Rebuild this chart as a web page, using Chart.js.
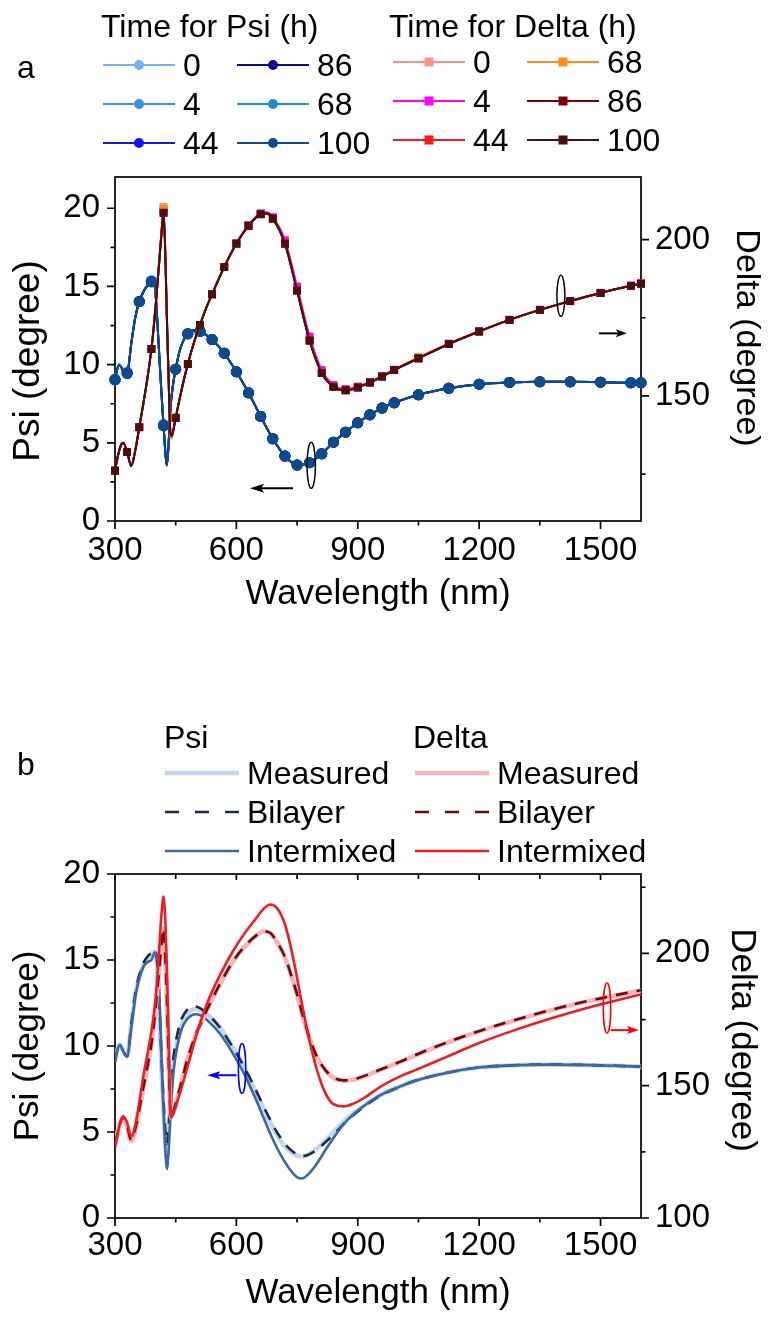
<!DOCTYPE html>
<html>
<head>
<meta charset="utf-8">
<title>Psi and Delta spectra</title>
<script src="https://cdn.jsdelivr.net/npm/chart.js@4.4.1/dist/chart.umd.min.js"></script>
<style>
  html, body { margin:0; padding:0; background:#ffffff; }
  #page { position:relative; width:769px; height:1325px; overflow:hidden; background:#fff; }
  canvas { position:absolute; left:0; }
  #ca { top:0; }
  #cb { top:640px; }
  #ov { position:absolute; left:0; top:0; pointer-events:none; }
  #ov text { font-family:'Liberation Sans', Arial, Helvetica, sans-serif; fill:#000; }
</style>
</head>
<body>
<div id="page">
  <canvas id="ca" width="769" height="640"></canvas>
  <canvas id="cb" width="769" height="685"></canvas>
  <svg id="ov" width="769" height="1325" viewBox="0 0 769 1325" xmlns="http://www.w3.org/2000/svg"></svg>
</div>
<script>
// ---------------- DATA ----------------
// Axis ticks
const X_MAJOR = [300, 600, 900, 1200, 1500];
const X_MINOR = [450, 750, 1050, 1350];
const PSI_MAJOR = [0, 5, 10, 15, 20];
const PSI_MINOR = [2.5, 7.5, 12.5, 17.5];
const DELTA_A_MAJOR = [150, 200];
const DELTA_A_MINOR = [125, 175];
const DELTA_B_MAJOR = [100, 150, 200];
const DELTA_B_MINOR = [125, 175, 225];

// Panel a: wavelength grid (nm) and marker wavelengths
const W_A = [300,305,310,315,320,330,340,350,360,370,380,390,395,400,405,410,415,420,425,428,432,437,440,445,450,460,470,480,495,510,525,540,555,570,600,630,660,675,690,720,750,781,811,840,870,900,930,960,990,1050,1125,1200,1275,1350,1425,1500,1575,1600];
const MARK_A = [300,330,360,390,420,450,480,510,540,570,600,630,660,690,720,750,781,811,840,870,900,930,960,990,1050,1125,1200,1275,1350,1425,1500,1575,1600];

// Panel a: Psi (degree) vs time
const PSI_A_0H   = [9.1,9.7,10.05,9.9,9.65,9.55,11.35,13.05,14.05,14.7,15.1,15.4,15.5,14.7,12.7,10.4,8.2,6.2,4.25,3.6,4.75,7.2,8.0,9.0,9.72,10.9,11.6,11.98,12.2,12.14,11.9,11.6,11.2,10.74,9.55,8.2,6.7,5.96,5.27,4.16,3.59,3.74,4.31,5.05,5.69,6.29,6.8,7.23,7.57,8.08,8.5,8.76,8.87,8.91,8.91,8.89,8.85,8.85];
const PSI_A_4H   = [9.05,9.66,9.98,9.86,9.61,9.47,11.3,13.0,14.03,14.66,15.06,15.32,15.42,14.62,12.62,10.32,8.12,6.12,4.21,3.56,4.71,7.2,8.0,9.0,9.71,10.9,11.6,11.97,12.2,12.13,11.9,11.6,11.2,10.73,9.54,8.2,6.69,5.95,5.26,4.15,3.58,3.73,4.3,5.04,5.68,6.28,6.79,7.22,7.56,8.07,8.49,8.75,8.86,8.9,8.9,8.88,8.84,8.84];
const PSI_A_44H  = [9.04,9.65,9.96,9.85,9.6,9.46,11.3,13.0,14.03,14.65,15.05,15.31,15.41,14.61,12.61,10.31,8.11,6.11,4.2,3.55,4.7,7.2,8.0,9.0,9.71,10.9,11.6,11.97,12.2,12.13,11.9,11.6,11.2,10.73,9.54,8.2,6.69,5.95,5.26,4.15,3.58,3.73,4.3,5.04,5.68,6.28,6.79,7.22,7.56,8.07,8.49,8.75,8.86,8.9,8.9,8.88,8.84,8.84];
const PSI_A_86H  = [9.03,9.65,9.95,9.85,9.6,9.45,11.3,13.0,14.03,14.65,15.05,15.3,15.4,14.6,12.6,10.3,8.1,6.1,4.2,3.55,4.7,7.2,8.0,9.0,9.71,10.9,11.6,11.97,12.2,12.13,11.9,11.6,11.2,10.73,9.54,8.2,6.69,5.95,5.26,4.15,3.58,3.73,4.3,5.04,5.68,6.28,6.79,7.22,7.56,8.07,8.49,8.75,8.86,8.9,8.9,8.88,8.84,8.84];
const PSI_A_68H  = [9.03,9.65,9.95,9.85,9.6,9.45,11.3,13.0,14.03,14.65,15.05,15.3,15.4,14.6,12.6,10.3,8.1,6.1,4.2,3.55,4.7,7.2,8.0,9.0,9.71,10.9,11.6,11.97,12.2,12.13,11.9,11.6,11.2,10.73,9.54,8.2,6.69,5.95,5.26,4.15,3.58,3.73,4.3,5.04,5.68,6.28,6.79,7.22,7.56,8.07,8.49,8.75,8.86,8.9,8.9,8.88,8.84,8.84];
const PSI_A_100H = [9.03,9.65,9.95,9.85,9.6,9.45,11.3,13.0,14.03,14.65,15.05,15.3,15.4,14.6,12.6,10.3,8.1,6.1,4.2,3.55,4.7,7.2,8.0,9.0,9.71,10.9,11.6,11.97,12.2,12.13,11.9,11.6,11.2,10.73,9.54,8.2,6.69,5.95,5.26,4.15,3.58,3.73,4.3,5.04,5.68,6.28,6.79,7.22,7.56,8.07,8.49,8.75,8.86,8.9,8.9,8.88,8.84,8.84];

// Panel a: Delta (degree) vs time
const DELTA_A_0H   = [126.1,129.5,132.3,134.3,135.0,132.1,127.6,132.5,140.0,147.5,155.5,165.0,171.5,178.5,186.5,194.5,203.0,210.5,193,176,158,138,137.2,139.6,143.0,149.2,155,160.2,167,172.7,178,182.5,187,191.2,198.7,204.4,208.1,208.3,206.7,198.7,183.7,167.7,157.3,152.9,151.8,152.7,154.3,156.2,158.3,162.0,166.6,170.6,174.3,177.5,180.3,182.9,185.2,185.9];
const DELTA_A_4H   = [126.1,129.5,132.3,134.3,135.0,132.1,127.6,132.5,140.0,147.5,155.5,165.0,171.3,178.3,186.3,194.3,202.5,209.8,192.5,176,158,138,137.2,139.6,143.0,149.2,155,160.2,167,172.7,178,182.5,187,191.2,198.8,204.6,208.4,208.7,207.2,199.8,185.0,169.0,158.3,153.5,152.2,153.0,154.5,156.3,158.4,162.1,166.7,170.7,174.4,177.6,180.4,183.0,185.3,186.0];
const DELTA_A_44H  = [126.1,129.5,132.3,134.3,135.0,132.1,127.6,132.5,140.0,147.5,155.5,165.0,171,178,186,194,202.2,209.0,192.2,176,158,138,137.2,139.6,143.0,149.2,155,160.2,167,172.7,178,182.5,187,191.2,198.7,204.4,208.1,208.3,206.7,198.7,183.7,167.7,157.3,152.9,151.8,152.7,154.3,156.2,158.3,162.0,166.6,170.6,174.3,177.5,180.3,182.9,185.2,185.9];
const DELTA_A_68H  = [126.1,129.5,132.3,134.3,135.0,132.1,127.6,132.5,140.0,147.5,155.5,165.0,171.2,178.2,186.2,194.2,202.6,209.8,191.5,175,157,137.2,136.3,139.2,143.0,149.2,155,160.2,167,172.7,178,182.5,187,191.2,198.7,204.4,208.1,208.3,206.7,198.7,183.7,167.7,157.3,152.9,151.8,152.7,154.3,156.2,158.3,162.4,166.7,170.6,174.3,177.5,180.3,182.9,185.2,185.9];
const DELTA_A_86H  = [126.1,129.5,132.3,134.3,135.0,132.1,127.6,132.5,140.0,147.5,155.5,165.0,171,178,186,194,202,208.6,192,176,158,138,137.2,139.6,143.0,149.2,155,160.2,167,172.7,178,182.5,187,191.2,198.7,204.4,208.1,208.3,206.7,198.7,183.7,167.7,157.3,152.9,151.8,152.7,154.3,156.2,158.3,162.0,166.6,170.6,174.3,177.5,180.3,182.9,185.2,185.9];
const DELTA_A_100H = [126.1,129.5,132.3,134.3,135.0,132.1,127.6,132.5,140.0,147.5,155.5,165.0,171,178,186,194,202,208.5,192,176,158,138,137.2,139.6,143.0,149.2,155,160.2,167,172.7,178,182.5,187,191.2,198.7,204.4,208.1,208.3,206.7,198.7,183.7,167.7,157.3,152.9,151.8,152.7,154.3,156.2,158.3,162.0,166.6,170.6,174.3,177.5,180.3,182.9,185.2,185.9];

// Panel b: wavelength grid (nm)
const W_B = [300,305,312,320,330,340,352,370,382,390,399,405,410,415,420,425,428,432,438,445,455,465,478,490,500,510,530,560,593,620,650,667,684,700,720,740,754,762,780,800,820,840,865,890,920,956,1005,1038,1121,1203,1286,1369,1451,1534,1600];
const PSI_B_MEASURED   = [9.1,9.7,10.1,9.75,9.4,11.2,13.25,14.7,15.15,15.35,15.5,14.3,11.6,8.6,6.2,4.3,3.6,4.7,7.3,9.1,10.4,11.25,11.85,12.1,12.15,12.1,11.8,11.05,9.85,8.7,7.2,6.35,5.55,4.85,4.15,3.75,3.6,3.58,3.72,4.05,4.5,5.0,5.6,6.1,6.6,7.15,7.65,7.95,8.45,8.76,8.88,8.92,8.9,8.85,8.8];
const PSI_B_BILAYER    = [9.1,9.7,10.05,9.7,9.4,11.2,13.3,14.8,15.25,15.4,15.5,14.6,12.2,9.3,6.8,4.9,4.3,5.1,7.5,9.4,10.8,11.6,12.1,12.3,12.3,12.2,11.85,11.05,9.85,8.75,7.35,6.5,5.7,5.0,4.3,3.85,3.65,3.6,3.7,4.0,4.4,4.85,5.45,6.0,6.55,7.12,7.64,7.95,8.45,8.76,8.88,8.92,8.9,8.85,8.8];
const PSI_B_INTERMIXED = [9.1,9.7,10.05,9.7,9.4,11.0,13.1,14.6,14.9,15.0,15.45,15.1,12.8,9.3,6.2,3.7,2.85,3.7,6.4,8.6,10.1,11.0,11.55,11.8,11.85,11.8,11.45,10.7,9.5,8.35,6.8,5.85,4.9,4.1,3.25,2.6,2.32,2.3,2.6,3.2,3.95,4.65,5.45,6.05,6.6,7.14,7.65,7.95,8.45,8.76,8.88,8.92,8.9,8.85,8.8];
const DELTA_B_MEASURED   = [127.8,131.5,135.8,138.0,134.5,129.0,134.5,149.0,158.5,165.5,177.0,186.5,195.0,203.0,209.3,196.0,184.0,163.0,138.0,140.3,146.0,151.5,159.5,165.0,169.5,172.8,179.5,188.5,197.2,202.5,206.8,208.3,207.6,204.3,198.5,189.5,182.2,177.5,168.3,160.5,155.8,153.0,151.9,152.3,153.8,156.0,159.0,161.2,166.3,170.7,174.6,178.2,181.3,184.0,186.0];
const DELTA_B_BILAYER    = [127.5,131.2,135.5,138.2,134.8,129.5,135.0,149.3,158.7,165.7,177.2,186.8,195.5,203.5,209.6,196.5,184.5,163.5,138.3,140.5,146.2,151.7,159.6,165.1,169.6,172.9,179.6,188.6,197.3,202.6,206.9,208.4,207.7,204.4,198.6,189.6,182.3,177.6,168.4,160.6,155.9,153.1,152.0,152.4,153.9,156.1,159.1,161.3,166.4,170.8,174.7,178.3,181.4,184.1,186.1];
const DELTA_B_INTERMIXED = [126.5,130.5,135.5,138.4,136.0,130.8,136.5,153.5,163.5,170.5,181.0,192.0,204.0,215.0,221.5,210.0,196.0,172.0,138.0,139.8,144.5,149.5,156.5,163.0,168.5,173.5,182.0,192.0,201.2,207.5,213.5,216.8,218.5,217.2,211.0,198.5,187.5,181.0,167.5,155.5,147.2,143.0,142.2,143.3,145.8,149.6,153.5,155.6,161.0,166.3,170.9,175.0,178.7,182.0,184.5];

// ---------------- STYLE / LAYOUT ----------------
const FONT = "'Liberation Sans', Arial, Helvetica, sans-serif";
Chart.defaults.font.family = FONT;
Chart.defaults.color = '#000';
const TICK_FONT = { size: 33, family: FONT };
const TITLE_FONT = { size: 35, family: FONT };

const SERIES_A_PSI = [
  { label: '0',   values: PSI_A_0H,   color: '#72B3F4', order: 11 },
  { label: '4',   values: PSI_A_4H,   color: '#3D8EE8', order: 10 },
  { label: '44',  values: PSI_A_44H,  color: '#1616F2', order: 9 },
  { label: '86',  values: PSI_A_86H,  color: '#0A0A98', order: 7 },
  { label: '68',  values: PSI_A_68H,  color: '#1C8ECC', order: 8 },
  { label: '100', values: PSI_A_100H, color: '#0E4B8B', order: 6 }
];
const SERIES_A_DELTA = [
  { label: '0',   values: DELTA_A_0H,   color: '#FF8E8E', order: 5 },
  { label: '4',   values: DELTA_A_4H,   color: '#FF00FF', order: 4 },
  { label: '44',  values: DELTA_A_44H,  color: '#FF1818', order: 3 },
  { label: '68',  values: DELTA_A_68H,  color: '#FF8A14', order: 2 },
  { label: '86',  values: DELTA_A_86H,  color: '#7E0000', order: 1 },
  { label: '100', values: DELTA_A_100H, color: '#4C0E0E', order: 0 }
];
const SERIES_B_PSI = [
  { label: 'Measured',   values: PSI_B_MEASURED,   color: '#C4D5EE', width: 4.5, dash: [], order: 5 },
  { label: 'Bilayer',    values: PSI_B_BILAYER,    color: '#1B2B42', width: 2.6, dash: [12, 9], order: 4 },
  { label: 'Intermixed', values: PSI_B_INTERMIXED, color: '#3A68A0', width: 2.6, dash: [], order: 3 }
];
const SERIES_B_DELTA = [
  { label: 'Measured',   values: DELTA_B_MEASURED,   color: '#F8B3B5', width: 4.5, dash: [], order: 2 },
  { label: 'Bilayer',    values: DELTA_B_BILAYER,    color: '#6A0A0A', width: 2.6, dash: [12, 9], order: 1 },
  { label: 'Intermixed', values: DELTA_B_INTERMIXED, color: '#EE1D23', width: 2.6, dash: [], order: 0 }
];

const ANNOT_A = [
  { type: 'ellipse', scale: 'yL', x: 785, y: 3.56, rx: 4.2, ry: 23, color: '#000', width: 1.5 },
  { type: 'arrow', scale: 'yL', x1: 740, x2: 634, y: 2.1, head: 14, hw: 4.5, color: '#000', width: 2 },
  { type: 'ellipse', scale: 'yR', x: 1402, y: 182, rx: 4, ry: 20.5, color: '#000', width: 1.5 },
  { type: 'arrow', scale: 'yR', x1: 1496, x2: 1565, y: 170, head: 11, hw: 4, color: '#000', width: 2 }
];
const ANNOT_B = [
  { type: 'ellipse', scale: 'yL', x: 614, y: 8.69, rx: 3.7, ry: 25, color: '#0000FF', width: 1.5 },
  { type: 'arrow', scale: 'yL', x1: 600, x2: 528, y: 8.3, head: 13, hw: 4, color: '#0000FF', width: 2 },
  { type: 'ellipse', scale: 'yR', x: 1516, y: 179.4, rx: 3.7, ry: 25, color: '#FF0000', width: 1.5 },
  { type: 'arrow', scale: 'yR', x1: 1525, x2: 1595, y: 171, head: 12, hw: 4, color: '#FF0000', width: 2 }
];

// ---------------- PLUGINS ----------------
const frameTicks = {
  id: 'frameTicks',
  beforeDatasetsDraw(chart, args, opts) {
    const { ctx, chartArea: a, scales } = chart;
    ctx.save();
    ctx.strokeStyle = '#000';
    ctx.lineWidth = 1.7;
    ctx.lineCap = 'butt';
    ctx.strokeRect(a.left, a.top, a.right - a.left, a.bottom - a.top);
    ctx.beginPath();
    for (const t of opts.ticks) {
      const s = scales[t.scale];
      for (const v of t.values) {
        const p = s.getPixelForValue(v);
        if (t.side === 'bottom') { ctx.moveTo(p, a.bottom); ctx.lineTo(p, a.bottom + t.len); }
        else if (t.side === 'top') { ctx.moveTo(p, a.top); ctx.lineTo(p, a.top + t.len); }
        else if (t.side === 'left') { ctx.moveTo(a.left, p); ctx.lineTo(a.left - t.len, p); }
        else if (t.side === 'right') { ctx.moveTo(a.right, p); ctx.lineTo(a.right + t.len, p); }
      }
    }
    ctx.stroke();
    ctx.restore();
  }
};
const annot = {
  id: 'annot',
  afterDatasetsDraw(chart, args, opts) {
    const { ctx, scales } = chart;
    ctx.save();
    for (const it of opts.items) {
      const xs = scales.x, ys = scales[it.scale];
      ctx.strokeStyle = it.color; ctx.fillStyle = it.color; ctx.lineWidth = it.width;
      if (it.type === 'ellipse') {
        ctx.beginPath();
        ctx.ellipse(xs.getPixelForValue(it.x), ys.getPixelForValue(it.y), it.rx, it.ry, 0, 0, Math.PI * 2);
        ctx.stroke();
      } else {
        const x1 = xs.getPixelForValue(it.x1), x2 = xs.getPixelForValue(it.x2), y = ys.getPixelForValue(it.y);
        const d = Math.sign(x2 - x1);
        ctx.beginPath(); ctx.moveTo(x1, y); ctx.lineTo(x2 - d * it.head * 0.7, y); ctx.stroke();
        ctx.beginPath();
        ctx.moveTo(x2, y);
        ctx.lineTo(x2 - d * it.head, y - it.hw);
        ctx.lineTo(x2 - d * it.head * 0.78, y);
        ctx.lineTo(x2 - d * it.head, y + it.hw);
        ctx.closePath(); ctx.fill();
      }
    }
    ctx.restore();
  }
};

// ---------------- BUILDERS ----------------
function xScale(tickPad, titlePadBottom, height) {
  return {
    type: 'linear', position: 'bottom', min: 300, max: 1600,
    afterBuildTicks: s => { s.ticks = X_MAJOR.map(v => ({ value: v })); },
    afterFit: s => { s.height = height; },
    ticks: { font: TICK_FONT, color: '#000', padding: tickPad, maxRotation: 0, minRotation: 0, autoSkip: false, callback: v => String(v) },
    grid: { display: false, drawTicks: false },
    border: { display: false },
    title: { display: true, text: 'Wavelength (nm)', font: TITLE_FONT, color: '#000', padding: { top: 0, bottom: titlePadBottom } }
  };
}
function yScale(pos, min, max, major, width, tickPad) {
  return {
    type: 'linear', position: pos, min: min, max: max,
    afterBuildTicks: s => { s.ticks = major.map(v => ({ value: v })); },
    afterFit: s => { s.width = width; },
    ticks: { font: TICK_FONT, color: '#000', padding: tickPad, autoSkip: false, callback: v => String(v) },
    grid: { display: false, drawTicks: false },
    border: { display: false },
    title: { display: false }
  };
}
function dsA(s, axis, style) {
  return {
    label: s.label,
    data: W_A.map((w, i) => ({ x: w, y: s.values[i] })),
    borderColor: s.color, backgroundColor: s.color, borderWidth: 2,
    pointStyle: style,
    pointRadius: ctx => (ctx.raw && MARK_A.includes(ctx.raw.x)) ? 5.5 : 0,
    pointHoverRadius: 0,
    pointBorderWidth: 0,
    pointBackgroundColor: s.color,
    cubicInterpolationMode: 'monotone',
    xAxisID: 'x', yAxisID: axis, order: s.order, clip: false, fill: false
  };
}
function dsB(s, axis) {
  return {
    label: s.label,
    data: W_B.map((w, i) => ({ x: w, y: s.values[i] })),
    borderColor: s.color, backgroundColor: s.color, borderWidth: s.width, borderDash: s.dash,
    pointRadius: 0, pointHoverRadius: 0,
    cubicInterpolationMode: 'monotone',
    xAxisID: 'x', yAxisID: axis, order: s.order, fill: false
  };
}

// ---------------- CHART A ----------------
new Chart(document.getElementById('ca'), {
  type: 'line',
  data: { datasets: [
    ...SERIES_A_PSI.map(s => dsA(s, 'yL', 'circle')),
    ...SERIES_A_DELTA.map(s => dsA(s, 'yR', 'rect'))
  ] },
  options: {
    responsive: false, animation: false, events: [],
    layout: { padding: { top: 177, left: 0, right: 0, bottom: 0 } },
    plugins: {
      legend: { display: false }, tooltip: { enabled: false },
      frameTicks: { ticks: [
        { scale: 'x', side: 'bottom', values: X_MAJOR, len: 8 },
        { scale: 'x', side: 'bottom', values: X_MINOR, len: 4.5 },
        { scale: 'yL', side: 'left', values: PSI_MAJOR, len: 8 },
        { scale: 'yL', side: 'left', values: PSI_MINOR, len: 4.5 },
        { scale: 'yR', side: 'right', values: DELTA_A_MAJOR, len: 8 },
        { scale: 'yR', side: 'right', values: DELTA_A_MINOR, len: 4.5 }
      ] },
      annot: { items: ANNOT_A }
    },
    scales: {
      x: xScale(10, 25, 119),
      yL: yScale('left', 0, 22, PSI_MAJOR, 115, 15),
      yR: yScale('right', 110, 220, DELTA_A_MAJOR, 128, 14)
    }
  },
  plugins: [frameTicks, annot]
});

// ---------------- CHART B ----------------
new Chart(document.getElementById('cb'), {
  type: 'line',
  data: { datasets: [
    ...SERIES_B_PSI.map(s => dsB(s, 'yL')),
    ...SERIES_B_DELTA.map(s => dsB(s, 'yR'))
  ] },
  options: {
    responsive: false, animation: false, events: [],
    layout: { padding: { top: 234, left: 0, right: 0, bottom: 0 } },
    plugins: {
      legend: { display: false }, tooltip: { enabled: false },
      frameTicks: { ticks: [
        { scale: 'x', side: 'bottom', values: X_MAJOR, len: 8 },
        { scale: 'x', side: 'bottom', values: X_MINOR, len: 4.5 },
        { scale: 'x', side: 'top', values: X_MAJOR, len: 6 },
        { scale: 'x', side: 'top', values: X_MINOR, len: 5 },
        { scale: 'yL', side: 'left', values: PSI_MAJOR, len: 8 },
        { scale: 'yL', side: 'left', values: PSI_MINOR, len: 4.5 },
        { scale: 'yR', side: 'right', values: DELTA_B_MAJOR, len: 8 },
        { scale: 'yR', side: 'right', values: DELTA_B_MINOR, len: 4.5 }
      ] },
      annot: { items: ANNOT_B }
    },
    scales: {
      x: xScale(8, 11, 107),
      yL: yScale('left', 0, 20, PSI_MAJOR, 115, 15),
      yR: yScale('right', 100, 230, DELTA_B_MAJOR, 128, 14)
    }
  },
  plugins: [frameTicks, annot]
});

// ---------------- SVG OVERLAY: legends, panel letters, y titles ----------------
const NS = 'http://www.w3.org/2000/svg';
const ov = document.getElementById('ov');
function add(tag, attrs, text) {
  const e = document.createElementNS(NS, tag);
  for (const k in attrs) e.setAttribute(k, attrs[k]);
  if (text != null) e.textContent = text;
  ov.appendChild(e);
  return e;
}
function txt(x, y, s, size, extra) {
  return add('text', Object.assign({ x: x, y: y, 'font-size': size }, extra || {}), s);
}

// y-axis titles
txt(0, 0, 'Psi (degree)', 37, { transform: 'translate(26,361) rotate(-90)', 'text-anchor': 'middle', 'dominant-baseline': 'central' });
txt(0, 0, 'Delta (degree)', 34, { transform: 'translate(749,338) rotate(90)', 'text-anchor': 'middle', 'dominant-baseline': 'central' });
txt(0, 0, 'Psi (degree)', 35, { transform: 'translate(25,1046) rotate(-90)', 'text-anchor': 'middle', 'dominant-baseline': 'central' });
txt(0, 0, 'Delta (degree)', 35, { transform: 'translate(744,1040) rotate(90)', 'text-anchor': 'middle', 'dominant-baseline': 'central' });

// panel letters
txt(17, 78, 'a', 32);
txt(17, 775, 'b', 32);

// legend a
const LEG_FS = 32;
txt(101, 37, 'Time for Psi (h)', LEG_FS);
txt(389, 37, 'Time for Delta (h)', LEG_FS);
const LEG_A_PSI_ORDER = ['0', '4', '44', '86', '68', '100'];
const LEG_A_DELTA_ORDER = ['0', '4', '44', '68', '86', '100'];
const LEG_A_PSI_SLOTS = [[103, 65], [103, 104], [103, 143], [237, 65], [237, 104], [237, 143]];
const LEG_A_DELTA_SLOTS = [[393, 62], [393, 101], [393, 140], [527, 62], [527, 101], [527, 140]];
LEG_A_PSI_ORDER.forEach((lab, i) => {
  const s = SERIES_A_PSI.find(d => d.label === lab);
  const [x, y] = LEG_A_PSI_SLOTS[i];
  add('line', { x1: x, y1: y, x2: x + 72, y2: y, stroke: s.color, 'stroke-width': 2 });
  add('circle', { cx: x + 36, cy: y, r: 5, fill: s.color });
  txt(x + 80, y + 11, lab, LEG_FS);
});
LEG_A_DELTA_ORDER.forEach((lab, i) => {
  const s = SERIES_A_DELTA.find(d => d.label === lab);
  const [x, y] = LEG_A_DELTA_SLOTS[i];
  add('line', { x1: x, y1: y, x2: x + 72, y2: y, stroke: s.color, 'stroke-width': 2 });
  add('rect', { x: x + 36 - 4.5, y: y - 4.5, width: 9, height: 9, fill: s.color });
  txt(x + 80, y + 11, lab, LEG_FS);
});

// legend b
txt(164, 748, 'Psi', LEG_FS);
txt(413, 748, 'Delta', LEG_FS);
const LEG_B_PSI_SLOTS = [[165, 773], [165, 812], [165, 851]];
const LEG_B_DELTA_SLOTS = [[415, 773], [415, 812], [415, 851]];
function legB(series, slots) {
  series.forEach((s, i) => {
    const [x, y] = slots[i];
    const attrs = { x1: x, y1: y, x2: x + 74, y2: y, stroke: s.color, 'stroke-width': s.width };
    if (s.dash.length) attrs['stroke-dasharray'] = '14 16';
    add('line', attrs);
    txt(x + 82, y + 11, s.label, LEG_FS);
  });
}
legB(SERIES_B_PSI, LEG_B_PSI_SLOTS);
legB(SERIES_B_DELTA, LEG_B_DELTA_SLOTS);
</script>
</body>
</html>
